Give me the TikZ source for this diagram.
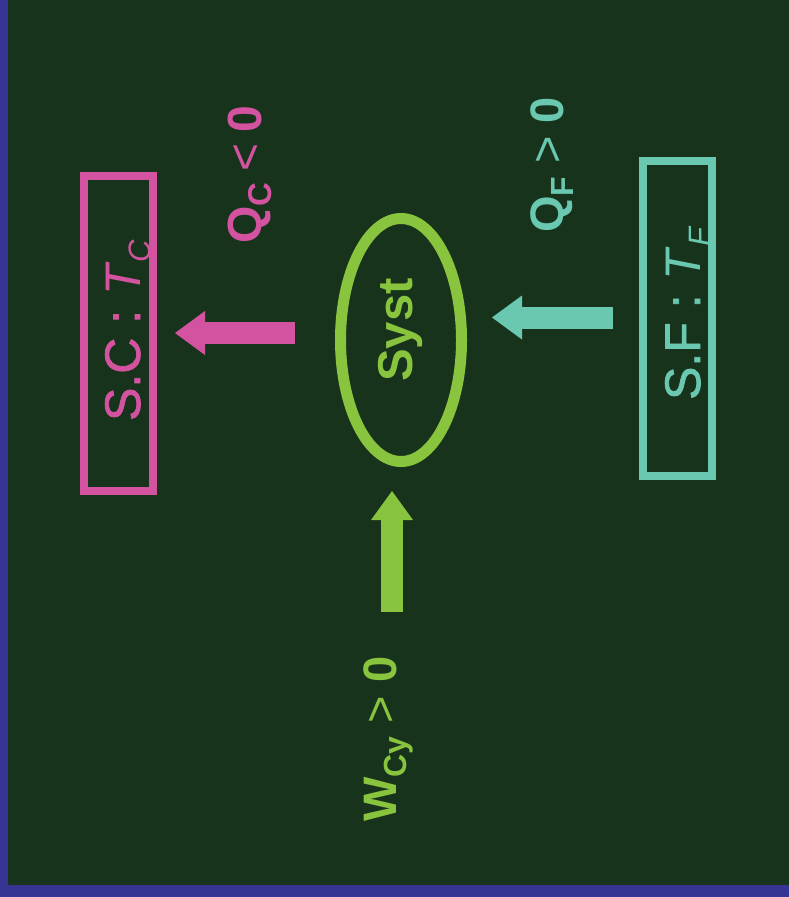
\documentclass[tikz,border=0pt]{standalone}
\usepackage{fontspec}
\setmainfont{Liberation Sans}
\newfontfamily\semibold[FakeBold=1.5]{Liberation Sans}
\usetikzlibrary{arrows.meta,shapes.geometric}
\definecolor{board}{RGB}{23,51,27}
\definecolor{frame}{RGB}{54,53,148}
\definecolor{hot}{RGB}{212,83,160}
\definecolor{cold}{RGB}{106,199,176}
\definecolor{work}{RGB}{137,196,63}
% lowered subscript: #1 = size, #2 = drop, #3 = text
\newcommand\lowsub[3]{\raisebox{-#2}{\fontsize{#1}{#1}\selectfont #3}}
\begin{document}
\begin{tikzpicture}[x=1pt,y=-1pt,
  flow/.style={line width=22pt,-{Triangle[length=30pt,width=44pt,line width=0pt]}},
  reservoir/.style={draw,rectangle,line width=7.5pt,inner sep=0pt,
    minimum width=69pt,minimum height=315pt},
  vlabel/.style={rotate=90,anchor=base,inner sep=0pt,outer sep=0pt}]
  % page and frame
  \useasboundingbox (0,0) rectangle (789,897);
  \fill[frame] (0,0) rectangle (789,897);
  \fill[board] (8,0) rectangle (789,885);

  % hot source
  \node[reservoir,draw=hot] (hotbox) at (118.25,333.5) {};
  \node[vlabel,text=hot] (hotname) at (140,330.5)
    {\fontsize{50}{50}\selectfont{\semibold S.C :} \textit{T}\lowsub{31}{10pt}{\itshape C}};

  % cold source
  \node[reservoir,draw=cold,line width=8pt] (coldbox) at (677.5,318.5) {};
  \node[vlabel,text=cold] (coldname) at (700,314)
    {\fontsize{50}{50}\selectfont{\semibold S.F :} \textit{T}\lowsub{31}{10pt}{\itshape F}};

  % system
  \node[draw=work,ellipse,line width=11pt,inner sep=0pt,
    minimum width=121pt,minimum height=243pt] (syst) at (401,340) {};
  \node[vlabel,text=work] (systname) at (412,330)
    {\fontsize{49}{49}\selectfont\bfseries Syst};

  % heat and work flows
  \coordinate (qctail) at (295,333);
  \coordinate (qctip) at (175,333);
  \draw[flow,hot] (qctail) -- (qctip);
  \coordinate (qftail) at (613,317.5);
  \coordinate (qftip) at (492,317.5);
  \draw[flow,cold] (qftail) -- (qftip);
  \coordinate (wtail) at (392,612);
  \coordinate (wtip) at (392,491);
  \draw[flow,work,-{Triangle[length=29pt,width=42pt,line width=0pt]}] (wtail) -- (wtip);

  % flow labels
  \node[vlabel,text=hot] (qc) at (261.7,175)
    {\fontsize{48}{48}\selectfont\textbf{Q\lowsub{33}{10pt}{C}}\hspace{11pt}<\hspace{11pt}\textbf{0}};
  \node[vlabel,text=cold] (qf) at (563,165)
    {\fontsize{47}{47}\selectfont\textbf{Q\lowsub{32}{10pt}{F}} > \textbf{0}};
  \node[vlabel,text=work] (wcy) at (396.7,739)
    {\fontsize{47}{47}\selectfont\textbf{W\lowsub{32}{10pt}{Cy}} > \textbf{0}};
\end{tikzpicture}
\end{document}
